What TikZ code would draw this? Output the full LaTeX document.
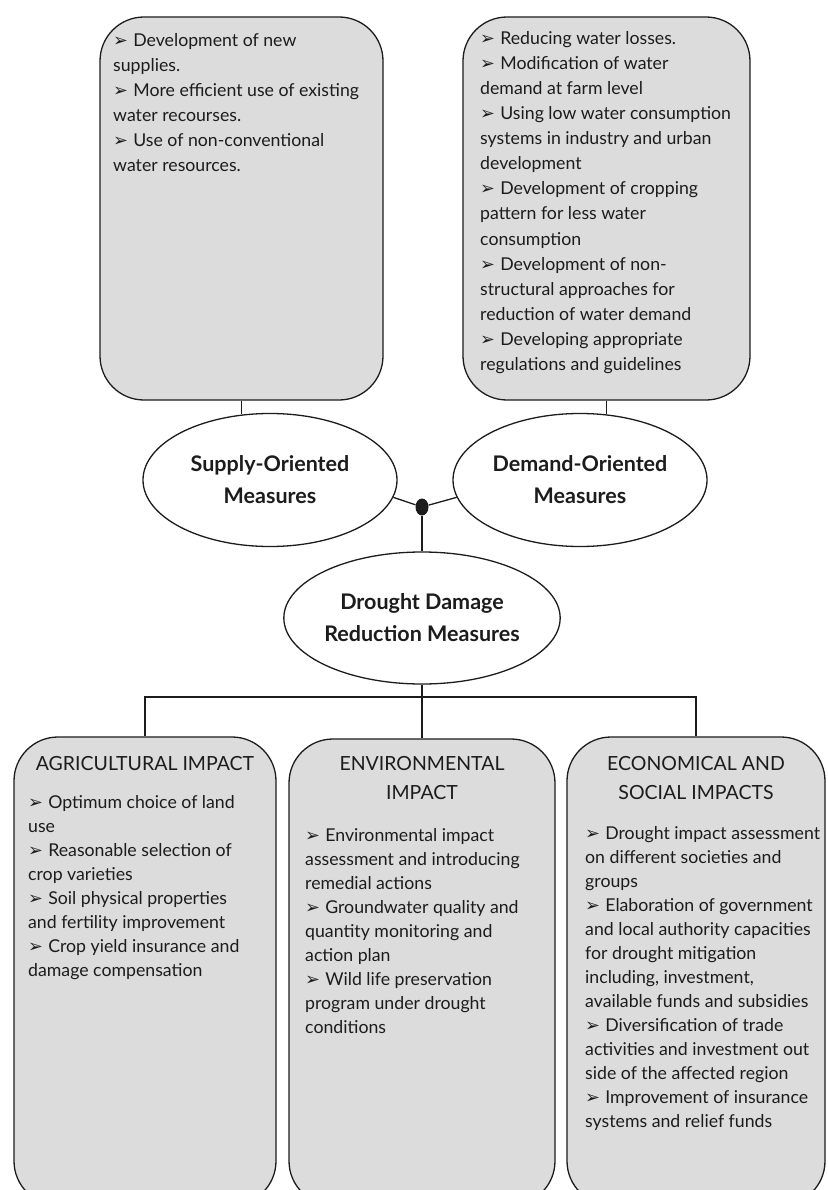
\documentclass[tikz,border=0pt]{standalone}
\usepackage{fontspec}
\setmainfont{Lato}
\newfontfamily\arrowfont[Scale=1.0]{DejaVu Sans}
\usetikzlibrary{shapes.geometric}

\definecolor{boxgray}{RGB}{220,220,220}
\definecolor{inkgray}{RGB}{28,28,28}

\newcommand{\itm}{{\arrowfont\char"27A2}\hspace{0.3em}}

\tikzset{
  panel/.style={draw=inkgray, line width=1.3pt, fill=boxgray, rounded corners=44pt, inner sep=0pt},
  measure/.style={ellipse, draw=inkgray, line width=1.3pt, fill=white, inner sep=0pt,
    align=center, text=inkgray, font=\fontsize{21.5}{32}\selectfont\bfseries},
  hubdot/.style={ellipse, fill=inkgray, inner sep=0pt, minimum width=13pt, minimum height=17pt},
  link/.style={draw=inkgray, line width=1.3pt},
  toptext/.style={anchor=north west, inner sep=0pt, align=left, text=inkgray,
    font=\fontsize{17.7}{25.1}\selectfont},
  lowtext/.style={anchor=north west, inner sep=0pt, align=left, text=inkgray,
    font=\fontsize{17.7}{24}\selectfont},
  headtext/.style={anchor=north, inner sep=0pt, align=center, text=inkgray,
    font=\fontsize{19.5}{29}\selectfont}
}

\begin{document}
\begin{tikzpicture}[x=1pt, y=-1pt]
\def\ytop{208.5};
\def\ylow{971};
\def\yfork{697};

\useasboundingbox (0,0) rectangle (827,1190);
\fill[white] (0,0) rectangle (827,1190);

% upper panels
\node[panel, minimum width=283pt, minimum height=383pt] (supbox) at (241.5,\ytop) {};
\node[panel, minimum width=287pt, minimum height=383pt] (dembox) at (606.5,\ytop) {};

\node[toptext] (suptext) at (113,33) {\itm Development of new\\supplies.\\\itm More efficient use of existing\\water recourses.\\\itm Use of non-conventional\\water resources.};
\node[toptext] (demtext) at (480,31) {\itm Reducing water losses.\\\itm Modification of water\\demand at farm level\\\itm Using low water consumption\\systems in industry and urban\\development\\\itm Development of cropping\\pattern for less water\\consumption\\\itm Development of non-\\structural approaches for\\reduction of water demand\\\itm Developing appropriate\\regulations and guidelines};

% measures
\node[measure, minimum width=254pt, minimum height=133pt] (supply) at (270,480) {Supply-Oriented\\Measures};
\node[measure, minimum width=254pt, minimum height=133pt] (demand) at (580,480) {Demand-Oriented\\Measures};
\node[hubdot] (hub) at (422,507) {};
\node[measure, minimum width=240pt, minimum height=132pt] (drought) at (422,618) {Drought Damage\\Reduction Measures};

\draw[link] (supbox.south) -- ([yshift=-1.5pt]supbox.south |- supply.north);
\draw[link] (dembox.south) -- ([yshift=-1.5pt]dembox.south |- demand.north);
\draw[link] (supply.-8) -- (hub);
\draw[link] (demand.188) -- (hub);
\draw[link] (hub) -- (drought.north);

% lower panels
\begin{scope}
\clip (0,0) rectangle (827,1190);
\node[panel, minimum width=262pt, minimum height=468pt] (agri) at (145,\ylow) {};
\node[panel, minimum width=266pt, minimum height=466pt] (env) at (422,972) {};
\node[panel, minimum width=258pt, minimum height=468pt] (econ) at (696,\ylow) {};
\end{scope}

\coordinate (fork) at (422,\yfork);
\draw[link] (drought.south) -- (env.north);
\draw[link] (agri.north) |- (fork) -| (econ.north);

\node[headtext] (agrihead) at (145,756) {AGRICULTURAL IMPACT};
\node[headtext] (envhead) at (422,756) {ENVIRONMENTAL\\IMPACT};
\node[headtext] (econhead) at (696,756) {ECONOMICAL AND\\SOCIAL IMPACTS};

\node[lowtext] (agritext) at (28,795) {\itm Optimum choice of land\\use\\\itm Reasonable selection of\\crop varieties\\\itm Soil physical properties\\and fertility improvement\\\itm Crop yield insurance and\\damage compensation};
\node[lowtext] (envtext) at (305,828) {\itm Environmental impact\\assessment and introducing\\remedial actions\\\itm Groundwater quality and\\quantity monitoring and\\action plan\\\itm Wild life preservation\\program under drought\\conditions};
\node[lowtext] (econtext) at (585,826) {\itm Drought impact assessment\\on different societies and\\groups\\\itm Elaboration of government\\and local authority capacities\\for drought mitigation\\including, investment,\\available funds and subsidies\\\itm Diversification of trade\\activities and investment out\\side of the affected region\\\itm Improvement of insurance\\systems and relief funds};

\end{tikzpicture}
\end{document}
